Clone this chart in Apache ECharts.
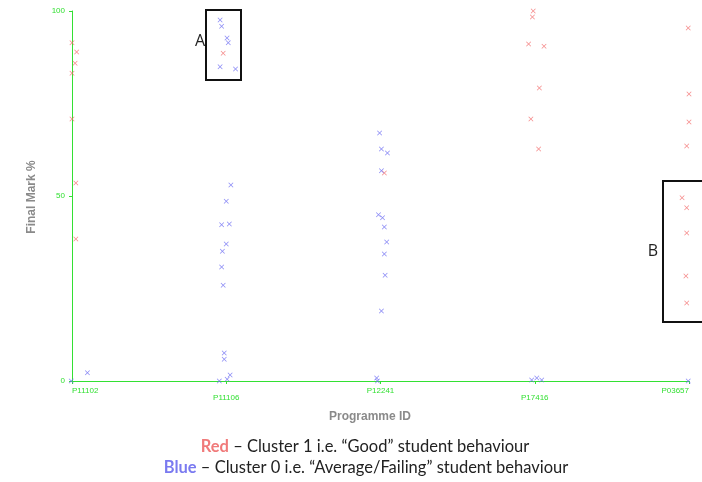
<!DOCTYPE html>
<html>
<head>
<meta charset="utf-8">
<script src="https://cdn.jsdelivr.net/npm/echarts@6/dist/echarts.min.js"></script>
<style>html,body{margin:0;padding:0;background:#fff}#c{width:702px;height:482px}</style>
</head>
<body>
<div id="c"></div>
<script>
const programmes = ['P11102', 'P11106', 'P12241', 'P17416', 'P03657'];
const yTicks = [0, 50, 100];

// Cluster 1 (red): programme index, final mark, horizontal jitter
const redProgramme = [0,0,0,0,0,0,0, 1, 2, 3,3,3,3,3,3,3, 4,4,4,4,4,4,4,4,4];
const redMark      = [91.4,88.9,85.9,83.2,70.8,53.5,38.4, 88.6, 56.2, 100,98.4,91.1,90.5,79.2,70.8,62.7, 95.4,77.6,70.0,63.5,49.5,46.8,40.0,28.4,21.1];
const redJitter    = [0,0.03,0.02,0,0,0.025,0.025, -0.02, 0.025, -0.01,-0.015,-0.04,0.06,0.03,-0.025,0.025, -0.005,0,0,-0.015,-0.045,-0.015,-0.015,-0.02,-0.015];

// Cluster 0 (blue)
const blueProgramme = [0,0, 1,1,1,1,1,1,1,1,1,1,1,1,1,1,1,1,1,1,1, 2,2,2,2,2,2,2,2,2,2,2,2,2, 3,3,3, 4];
const blueMark      = [2.2,0, 97.6,95.9,92.7,91.4,84.9,84.3,53.0,48.6,42.2,42.4,37.0,35.1,30.8,25.9,7.6,5.9,1.6,0.5,0, 67.0,62.7,61.6,56.8,44.9,44.1,41.6,37.6,34.3,28.6,18.9,0.8,0, 0.3,0.8,0.3, 0];
const blueJitter    = [0.1,-0.005, -0.04,-0.03,0.005,0.013,-0.04,0.06,0.03,0,-0.03,0.02,0,-0.025,-0.03,-0.02,-0.013,-0.013,0.025,0.006,-0.045, -0.006,0.006,0.045,0.006,-0.013,0.013,0.025,0.04,0.025,0.03,0.006,-0.025,-0.02, -0.02,0.013,0.045, -0.005];

const green = '#33e033';
const xSym = 'path://M0,1L1,0L5,4L9,0L10,1L6,5L10,9L9,10L5,6L1,10L0,9L4,5Z';

function build(prog, mark, jit) {
  return prog.map((p, i) => [p + jit[i], mark[i]]);
}

const chart = echarts.init(document.getElementById('c'), null, {renderer: 'canvas'});
chart.setOption({
  animation: false,
  backgroundColor: '#ffffff',
  grid: {left: 72, right: 13, top: 11, bottom: 101, containLabel: false},
  xAxis: {
    type: 'value', min: 0, max: 4, interval: 1,
    axisLine: {show: true, lineStyle: {color: green, width: 1}},
    axisTick: {show: true, length: 3, lineStyle: {color: green}},
    splitLine: {show: false},
    axisLabel: {
      color: green, fontSize: 8, fontFamily: 'Liberation Sans', margin: 6,
      lineHeight: 7, verticalAlign: 'top',
      alignMinLabel: 'left', alignMaxLabel: 'right',
      formatter: function (v) { const i = Math.round(v); return (i % 2 === 1 ? '\n' : '') + programmes[i]; }
    }
  },
  yAxis: {
    type: 'value', min: yTicks[0], max: yTicks[yTicks.length - 1], interval: 50,
    axisLine: {show: true, lineStyle: {color: green, width: 1}},
    axisTick: {show: true, length: 3, lineStyle: {color: green}},
    splitLine: {show: false},
    axisLabel: {color: green, fontSize: 8, fontFamily: 'Liberation Sans', margin: 7}
  },
  series: [
    {type: 'scatter', clip: false, symbol: xSym, symbolSize: 5,
     itemStyle: {color: '#f26a6a'}, data: build(redProgramme, redMark, redJitter)},
    {type: 'scatter', clip: false, symbol: xSym, symbolSize: 5,
     itemStyle: {color: '#6a6af2'}, data: build(blueProgramme, blueMark, blueJitter)}
  ],
  graphic: [
    {type: 'text', x: 32, y: 197, rotation: Math.PI / 2,
     style: {text: 'Final Mark %', fill: '#8a8a8a', font: 'bold 12px "Liberation Sans"', textAlign: 'center', textVerticalAlign: 'middle'}},
    {type: 'text', x: 370, y: 417,
     style: {text: 'Programme ID', fill: '#8a8a8a', font: 'bold 12px "Liberation Sans"', textAlign: 'center', textVerticalAlign: 'middle'}},
    {type: 'rect', shape: {x: 206, y: 10, width: 35, height: 70}, style: {fill: 'none', stroke: '#111', lineWidth: 2}},
    {type: 'text', x: 200, y: 41, style: {text: 'A', fill: '#222', font: '16px "Open Sans"', textAlign: 'center', textVerticalAlign: 'middle'}},
    {type: 'rect', shape: {x: 663, y: 181, width: 50, height: 141}, style: {fill: 'none', stroke: '#111', lineWidth: 2}},
    {type: 'text', x: 653, y: 251, style: {text: 'B', fill: '#222', font: '16px "Open Sans"', textAlign: 'center', textVerticalAlign: 'middle'}},
    {type: 'text', x: 365, y: 447,
     style: {text: '{r|Red} – Cluster 1 i.e. “Good” student behaviour', textAlign: 'center', textVerticalAlign: 'middle',
       font: '16.5px Lato', fill: '#222',
       rich: {r: {fill: '#f07a7a', font: 'bold 16.5px Lato'}}}},
    {type: 'text', x: 366, y: 468,
     style: {text: '{b|Blue} – Cluster 0 i.e. “Average/Failing” student behaviour', textAlign: 'center', textVerticalAlign: 'middle',
       font: '16.5px Lato', fill: '#222',
       rich: {b: {fill: '#7a7af0', font: 'bold 16.5px Lato'}}}}
  ]
});
</script>
</body>
</html>
